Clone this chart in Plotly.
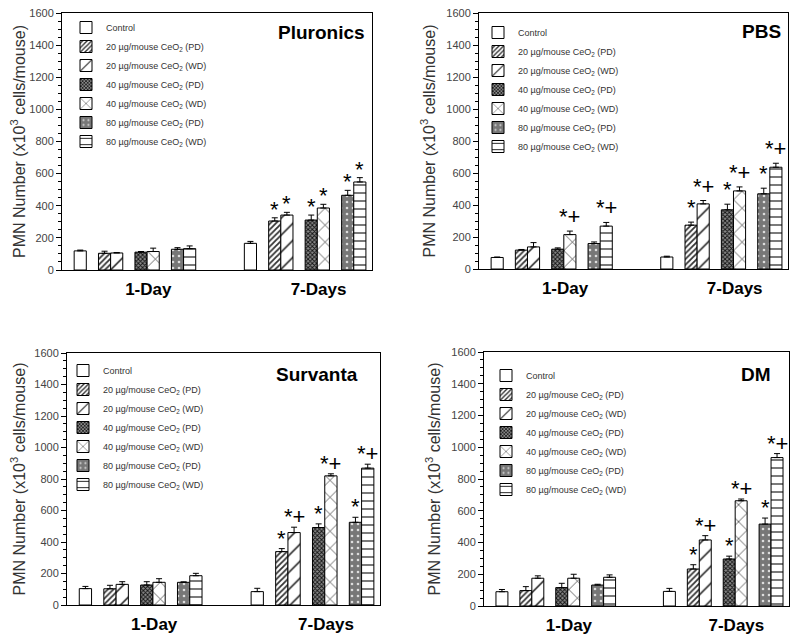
import plotly.graph_objects as go

# ---------------- data ----------------
panel_names = ["Pluronics", "PBS", "Survanta", "DM"]
time_points = ["1-Day", "7-Days"]
series_names = [
    "Control",
    "20 µg/mouse CeO<sub>2</sub> (PD)",
    "20 µg/mouse CeO<sub>2</sub> (WD)",
    "40 µg/mouse CeO<sub>2</sub> (PD)",
    "40 µg/mouse CeO<sub>2</sub> (WD)",
    "80 µg/mouse CeO<sub>2</sub> (PD)",
    "80 µg/mouse CeO<sub>2</sub> (WD)",
]
y_ticks = [0, 200, 400, 600, 800, 1000, 1200, 1400, 1600]

# mean values, one [1-Day, 7-Days] pair per series
pluronics_mean = [[119, 166], [104, 305], [106, 342], [111, 311], [115, 386], [129, 465], [133, 548]]
pluronics_err = [[5, 12], [13, 20], [3, 17], [4, 31], [21, 23], [10, 31], [17, 27]]
pluronics_sig = [["", ""], ["", "*"], ["", "*"], ["", "*"], ["", "*"], ["", "*"], ["", "*"]]

pbs_mean = [[72, 75], [118, 274], [138, 407], [124, 370], [215, 488], [159, 470], [268, 636]]
pbs_err = [[3, 5], [4, 19], [27, 21], [8, 35], [22, 25], [10, 35], [23, 25]]
pbs_sig = [["", ""], ["", "*"], ["", "*+"], ["", "*"], ["*+", "*+"], ["", "*"], ["*+", "*+"]]

survanta_mean = [[104, 85], [103, 339], [131, 460], [127, 492], [144, 820], [144, 525], [186, 869]]
survanta_err = [[14, 21], [22, 19], [17, 34], [21, 23], [23, 13], [3, 32], [15, 25]]
survanta_sig = [["", ""], ["", "*"], ["", "*+"], ["", "*"], ["", "*+"], ["", "*"], ["", "*+"]]

dm_mean = [[90, 92], [97, 233], [175, 416], [116, 296], [175, 663], [132, 516], [181, 935]]
dm_err = [[14, 19], [25, 27], [15, 27], [27, 18], [25, 11], [5, 38], [15, 25]]
dm_sig = [["", ""], ["", "*"], ["", "*+"], ["", "*"], ["", "*+"], ["", "*"], ["", "*+"]]

panels_mean = [pluronics_mean, pbs_mean, survanta_mean, dm_mean]
panels_err = [pluronics_err, pbs_err, survanta_err, dm_err]
panels_sig = [pluronics_sig, pbs_sig, survanta_sig, dm_sig]

# ---------------- layout constants ----------------
W, H = 792, 633          # page body has an 8px default margin
OFF = 8


def px_x(v):
    return (v - OFF) / W


def px_y(v):
    return 1 - (v - OFF) / H


slot_of_series = [0, 2, 3, 5, 6, 8, 9]
group_offset = [0, 14]
label_offset = 5.6

patterns = [
    dict(shape="", bgcolor="white"),
    dict(shape="/", size=4, solidity=0.45, fgcolor="#333", bgcolor="white", fillmode="replace"),
    dict(shape="/", size=12, solidity=0.12, fgcolor="#111", bgcolor="white", fillmode="replace"),
    dict(shape="x", size=3, solidity=0.5, fgcolor="#111", bgcolor="#888", fillmode="replace"),
    dict(shape="x", size=12, solidity=0.1, fgcolor="#111", bgcolor="white", fillmode="replace"),
    dict(shape=".", size=6, solidity=0.15, fgcolor="#ddd", bgcolor="#777", fillmode="replace"),
    dict(shape="-", size=8, solidity=0.14, fgcolor="#111", bgcolor="white", fillmode="replace"),
]

# panel frames in page pixels: (left, right, top, bottom)
frames = [(62, 372, 13, 270), (479, 788, 13, 269), (67, 380, 353, 605), (484, 789, 352, 606)]
# legend top-left in page pixels
legend_px = [(66, 13), (478, 18), (63, 356), (486, 361)]
title_pos = [(0.926, -5), (0.926, -5), (0.913, -20), (0.91, -16)]
star_shift = [-6, 0, -4, -4]

fig = go.Figure()
annotations = []

for p, name in enumerate(panel_names):
    xa = "x" if p == 0 else f"x{p+1}"
    ya = "y" if p == 0 else f"y{p+1}"
    leg = "legend" if p == 0 else f"legend{p+1}"
    means = panels_mean[p]
    errs = panels_err[p]
    sigs = panels_sig[p]
    for s, sname in enumerate(series_names):
        xs = [g + slot_of_series[s] for g in group_offset]
        fig.add_trace(go.Bar(
            x=xs, y=means[s], width=1.0,
            name=sname, legend=leg, showlegend=True,
            xaxis=xa, yaxis=ya,
            marker=dict(color="white", pattern=patterns[s],
                        line=dict(color="black", width=1)),
            error_y=dict(type="data", array=errs[s], arrayminus=[0, 0],
                         symmetric=False, color="black", thickness=1, width=3),
            hoverinfo="skip",
        ))
        for t in range(2):
            mark = sigs[s][t]
            if mark:
                annotations.append(dict(
                    x=xs[t], y=means[s][t] + errs[s][t], xref=xa, yref=ya,
                    text=mark, showarrow=False, xanchor="center", yanchor="bottom",
                    yshift=star_shift[p], font=dict(family="Arial", size=22, color="black"),
                ))
    ty, tx = title_pos[p]
    annotations.append(dict(
        x=1, y=ty, xref=f"{xa} domain", yref=f"{ya} domain", xshift=tx,
        text=f"<b>{name}</b>", showarrow=False, xanchor="right", yanchor="middle",
        font=dict(family="Arial", size=19, color="black"),
    ))

layout = dict(
    width=W, height=H,
    margin=dict(l=0, r=0, t=0, b=0, autoexpand=False),
    paper_bgcolor="white", plot_bgcolor="white",
    barmode="overlay", showlegend=True,
    annotations=annotations,
)

for p in range(4):
    xk = "xaxis" if p == 0 else f"xaxis{p+1}"
    yk = "yaxis" if p == 0 else f"yaxis{p+1}"
    lk = "legend" if p == 0 else f"legend{p+1}"
    ya_name = "y" if p == 0 else f"y{p+1}"
    xa_name = "x" if p == 0 else f"x{p+1}"
    l, r, t, b = frames[p]
    layout[xk] = dict(
        domain=[px_x(l), px_x(r)], anchor=ya_name, range=[-1.5, 24],
        tickvals=[g + label_offset for g in group_offset], ticktext=time_points,
        ticks="", showline=True, linecolor="black", linewidth=1, mirror=True,
        showgrid=False, zeroline=False, ticklabelstandoff=4, automargin=False,
        ticklabeloverflow="allow",
        tickfont=dict(family="Arial", size=17, color="black", weight="bold"),
    )
    layout[yk] = dict(
        domain=[px_y(b), px_y(t)], anchor=xa_name, range=[0, 1600],
        tickvals=y_ticks, ticks="outside", ticklen=5, tickcolor="black",
        minor=dict(dtick=50, ticks="outside", ticklen=3, tickcolor="black"),
        showline=True, linecolor="black", linewidth=1, mirror=True,
        showgrid=False, zeroline=False, automargin=False,
        ticklabeloverflow="allow",
        tickfont=dict(family="Arial", size=11, color="#444"),
        title=dict(text="PMN Number (x10<sup>3</sup> cells/mouse)",
                   font=dict(family="Arial", size=16, color="#333"), standoff=6),
    )
    lx, ly = legend_px[p]
    layout[lk] = dict(
        x=px_x(lx), y=px_y(ly), xanchor="left", yanchor="top", bgcolor="rgba(0,0,0,0)",
        borderwidth=0, font=dict(family="Arial", size=9, color="#333"),
        tracegroupgap=0, traceorder="normal", itemwidth=30,
    )

fig.update_layout(**layout)
fig.write_html("out.html")
